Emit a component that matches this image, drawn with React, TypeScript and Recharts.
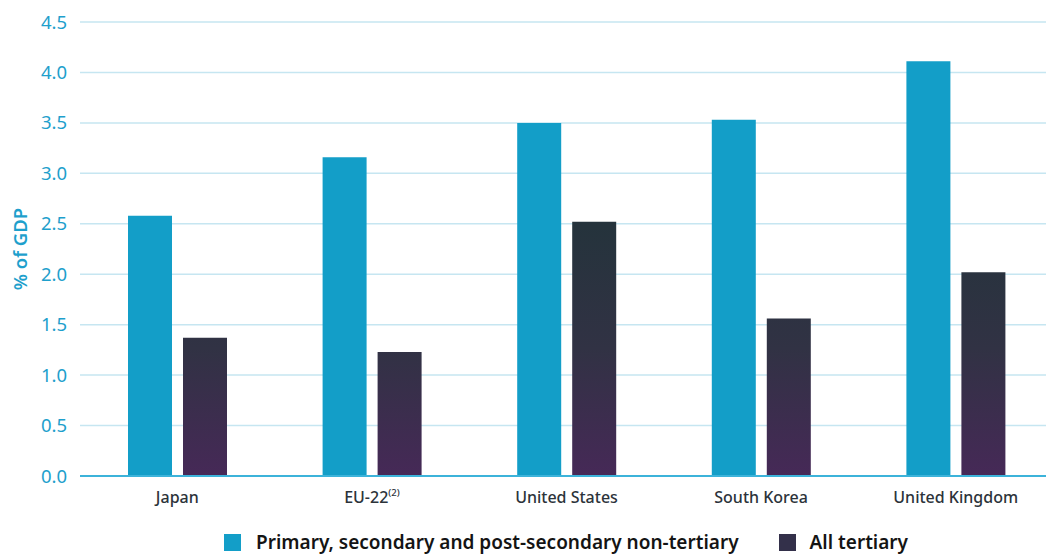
import { BarChart, Bar, XAxis, YAxis, CartesianGrid } from "recharts";

const countries = ["Japan", "EU-22", "United States", "South Korea", "United Kingdom"];
const primarySecondary = [2.58, 3.16, 3.5, 3.53, 4.11];
const tertiary = [1.37, 1.23, 2.52, 1.56, 2.02];
const yTicks = [0, 0.5, 1, 1.5, 2, 2.5, 3, 3.5, 4, 4.5];
const seriesNames = ["Primary, secondary and post-secondary non-tertiary", "All tertiary"];

const data = countries.map((c, i) => ({
  country: c,
  primary: primarySecondary[i],
  tertiary: tertiary[i],
}));

const font = "'Noto Sans', sans-serif";
const blue = "#139ec8";
const axisBlue = "#1ea0cc";

function CountryTick({ x, y, payload }: any) {
  const isEu = payload.value === "EU-22";
  return (
    <text x={x} y={y + 27} textAnchor="middle" fill="#2c333a" fontSize={16} fontWeight={500} fontFamily={font}>
      {payload.value}
      {isEu && (
        <tspan fontSize={9.5} dy={-7}>
          (2)
        </tspan>
      )}
    </text>
  );
}

export default function App() {
  return (
    <div style={{ position: "absolute", left: 0, top: 0, width: 1046, height: 556, overflow: "hidden", background: "#fff" }}>
      <BarChart
        width={1060}
        height={556}
        data={data}
        margin={{ top: 22, right: 7, left: 0, bottom: 50 }}
        barSize={44}
        barGap={11}
      >
        <defs>
          <linearGradient id="tertGrad" x1="0" y1="22" x2="0" y2="476" gradientUnits="userSpaceOnUse">
            <stop offset="0%" stopColor="#21363b" />
            <stop offset="45%" stopColor="#25333c" />
            <stop offset="72%" stopColor="#313244" />
            <stop offset="100%" stopColor="#462957" />
          </linearGradient>
        </defs>
        <CartesianGrid stroke="#c6e6f1" strokeWidth={1.5} vertical={false} />
        <XAxis
          dataKey="country"
          height={30}
          tick={<CountryTick />}
          tickSize={0}
          tickMargin={0}
          axisLine={{ stroke: "#3cb3da", strokeWidth: 2 }}
          tickLine={false}
          interval={0}
        />
        <YAxis
          width={80}
          domain={[0, 4.5]}
          ticks={yTicks}
          tickFormatter={(v: number) => v.toFixed(1)}
          tick={{ fill: axisBlue, fontSize: 18.5, fontFamily: font }}
          tickSize={0}
          tickMargin={13}
          axisLine={false}
          tickLine={false}
          label={{
            value: "% of GDP",
            angle: -90,
            position: "insideLeft",
            offset: 20,
            fill: axisBlue,
            fontSize: 18.5,
            fontWeight: 600,
            fontFamily: font,
            style: { textAnchor: "middle" },
          }}
        />
        <Bar dataKey="primary" fill={blue} isAnimationActive={false} name={seriesNames[0]} />
        <Bar dataKey="tertiary" fill="url(#tertGrad)" isAnimationActive={false} name={seriesNames[1]} />
      </BarChart>
      <div
        style={{
          position: "absolute",
          top: 530,
          left: 224,
          display: "flex",
          alignItems: "center",
          fontFamily: font,
          fontSize: 19,
          lineHeight: "24px",
          fontWeight: 600,
          color: "#141414",
          whiteSpace: "nowrap",
        }}
      >
        <span style={{ width: 17, height: 17, background: blue, display: "inline-block", marginRight: 15 }} />
        <span style={{ marginRight: 40 }}>{seriesNames[0]}</span>
        <span style={{ width: 17, height: 17, background: "#33304a", display: "inline-block", marginRight: 14 }} />
        <span>{seriesNames[1]}</span>
      </div>
    </div>
  );
}
